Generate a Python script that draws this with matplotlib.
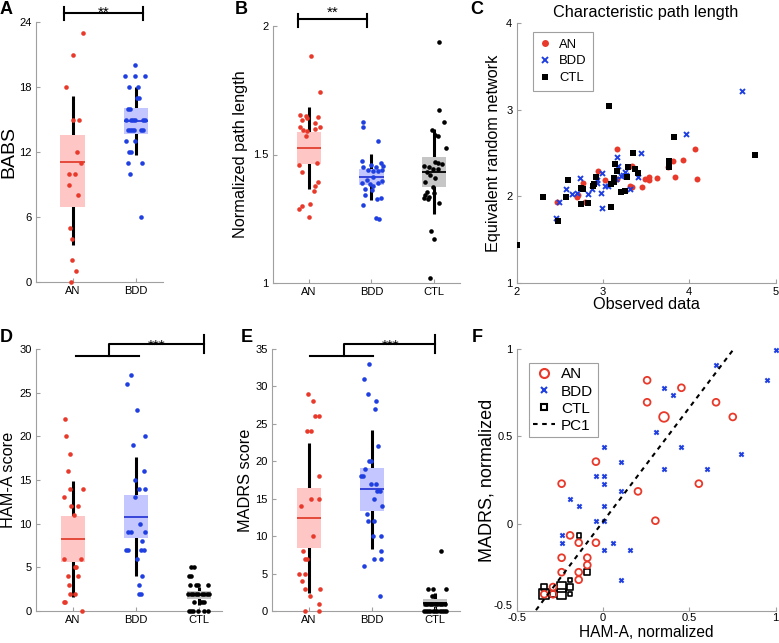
import matplotlib
matplotlib.use("Agg")
import matplotlib.pyplot as plt
from matplotlib.lines import Line2D

plt.rcParams["font.family"] = ["Liberation Sans", "DejaVu Sans"]

# ---------------- data ----------------
groups3 = ["AN", "BDD", "CTL"]

# A: BABS (jittered x, score)
babs_an_x = [1.16, 1.005, 0.90, 1.00, 1.095, 1.07, 1.13, 0.95, 1.03, 0.95, 1.085, 0.96, 0.99, 0.99, 1.05, 0.97]
babs_an_y = [23, 21, 18, 15, 15, 12, 11, 10, 10, 9, 8, 5, 4, 2, 1, 0]
babs_bdd_x = [1.98, 1.83, 1.99, 2.15, 1.89, 2.03, 2.02, 2.05, 1.88, 1.91,
              1.84, 1.93, 1.96, 1.98, 2.12, 2.15, 1.87, 1.90, 1.94, 1.97, 2.08, 2.12,
              1.85, 1.98, 1.89, 1.92, 1.87, 2.10, 1.90, 2.08]
babs_bdd_y = [20, 19, 19, 19, 18, 18, 17, 17, 16, 16,
              15, 15, 15, 15, 15, 15, 14, 14, 14, 14, 14, 14,
              13, 13, 12, 12, 11, 11, 10, 6]
# box stats: q1, median, q3, whisker low, whisker high
babs_box = {"AN": [6.9, 11.1, 13.6, 3.4, 17.2], "BDD": [13.7, 14.9, 16.1, 11.75, 18.0]}

# B: normalized path length
npl_an_x = [1.03, 1.17, 0.85, 0.95, 0.89, 0.97, 1.14, 1.09, 0.85, 0.90, 0.97, 1.10,
            1.17, 0.95, 0.84, 1.12, 0.89, 1.14, 1.10, 1.08, 1.01, 0.88, 0.83, 0.99]
npl_an_y = [1.883, 1.743, 1.655, 1.650, 1.634, 1.643, 1.646, 1.624, 1.606, 1.595, 1.593, 1.600,
            1.606, 1.572, 1.458, 1.466, 1.432, 1.394, 1.377, 1.358, 1.306, 1.301, 1.288, 1.257]
npl_bdd_x = [1.86, 1.86, 2.11, 1.85, 1.99, 2.08, 2.16, 2.19, 1.87, 1.95, 2.03, 2.10, 2.17, 1.92,
             2.03, 2.17, 1.85, 1.97, 2.10, 2.02, 1.89, 2.01, 1.89, 2.16, 2.09, 1.87, 2.08, 2.12]
npl_bdd_y = [1.626, 1.607, 1.551, 1.476, 1.458, 1.451, 1.467, 1.455, 1.451, 1.440, 1.436, 1.436,
             1.441, 1.399, 1.411, 1.398, 1.388, 1.385, 1.390, 1.377, 1.364, 1.363, 1.342, 1.331,
             1.327, 1.302, 1.254, 1.250]
npl_ctl_x = [3.08, 3.09, 3.16, 2.97, 3.02, 3.06, 3.19, 2.85, 2.92, 3.02, 3.07, 3.13, 2.89, 2.98,
             3.06, 2.94, 3.02, 2.86, 2.98, 2.89, 2.86, 2.92, 2.85, 2.90, 3.01, 3.09, 2.96, 3.01, 2.94]
npl_ctl_y = [1.939, 1.674, 1.628, 1.594, 1.576, 1.572, 1.527, 1.455, 1.453, 1.471, 1.466, 1.463,
             1.433, 1.442, 1.444, 1.420, 1.410, 1.394, 1.375, 1.355, 1.342, 1.336, 1.329, 1.326,
             1.349, 1.310, 1.202, 1.170, 1.021]
npl_box = {"AN": [1.463, 1.525, 1.588, 1.367, 1.684],
           "BDD": [1.380, 1.412, 1.444, 1.323, 1.501],
           "CTL": [1.375, 1.432, 1.489, 1.268, 1.598]}

# C: characteristic path length, observed vs random
cpl_an_x = [3.165, 2.946, 2.773, 2.707, 2.697, 2.473, 2.792, 3.023, 3.161, 3.334, 3.311, 3.334,
            3.457, 3.484, 3.534, 3.538, 3.623, 3.757, 3.807, 3.934, 3.838, 4.065, 4.096]
cpl_an_y = [2.546, 2.295, 2.150, 2.015, 1.988, 1.938, 1.930, 2.188, 2.196, 2.350, 2.119, 2.111,
            2.107, 2.203, 2.188, 2.219, 2.215, 2.334, 2.411, 2.419, 2.223, 2.550, 2.196]
cpl_bdd_x = [4.610, 3.961, 3.445, 3.161, 3.173, 2.988, 2.738, 2.934, 3.150, 3.254, 3.238, 3.215,
             3.273, 3.407, 2.927, 2.869, 2.823, 3.030, 3.057, 2.981, 2.646, 2.577, 2.704, 3.319,
             2.492, 2.996, 2.458]
cpl_bdd_y = [3.218, 2.722, 2.496, 2.450, 2.353, 2.272, 2.215, 2.188, 2.200, 2.280, 2.250, 2.231,
             2.242, 2.219, 2.150, 2.081, 2.023, 2.119, 2.119, 2.042, 2.023, 2.085, 2.035, 2.081,
             1.934, 1.861, 1.746]
cpl_ctl_x = [3.073, 3.830, 4.765, 3.349, 3.761, 3.772, 3.138, 3.292, 3.377, 3.161, 3.411, 2.923,
             3.277, 2.600, 3.130, 3.130, 3.100, 2.900, 2.888, 2.746, 2.769, 2.573, 2.304, 3.215,
             3.254, 2.742, 2.831, 3.100, 2.484, 2.01]
cpl_ctl_y = [3.042, 2.688, 2.476, 2.503, 2.411, 2.334, 2.373, 2.338, 2.319, 2.296, 2.265, 2.219,
             2.223, 2.188, 2.215, 2.165, 2.142, 2.142, 2.119, 2.092, 2.081, 1.992, 1.996, 2.053,
             2.061, 1.907, 1.919, 1.873, 1.719, 1.44]

# D: HAM-A
hama_an_x = [0.87, 0.89, 0.96, 0.92, 0.96, 1.16, 0.85, 0.97, 1.08, 1.01, 0.85,
             1.12, 1.03, 1.05, 0.92, 1.08, 0.94, 0.96, 1.03, 0.85, 0.88, 1.15]
hama_an_y = [22, 20, 18, 16, 14, 14, 13, 12, 12, 11, 6, 6, 5, 5, 4, 4, 3, 2, 2, 1, 1, 0]
hama_bdd_x = [1.92, 1.86, 2.02, 2.15, 1.96, 2.12, 1.99, 2.05, 2.15, 1.98, 2.06, 1.88,
              1.92, 2.14, 2.09, 1.84, 1.88, 2.08, 2.13, 2.01, 2.10, 2.05, 2.04, 2.08]
hama_bdd_y = [27, 26, 23, 20, 19, 16, 15, 14, 14, 13, 10, 9, 9, 9, 8, 7, 7, 7, 7, 6, 4, 3, 2, 2]
hama_ctl_x = [2.88, 2.92, 2.84, 2.88, 2.86, 2.96, 2.99, 3.14,
              2.83, 2.87, 2.91, 2.95, 2.99, 3.04, 3.08, 3.12, 3.16,
              2.92, 3.01, 3.05, 3.08, 2.84, 2.87, 2.91, 2.99, 3.08, 3.14]
hama_ctl_y = [5, 5, 4, 4, 3, 3, 3, 3, 2, 2, 2, 2, 2, 2, 2, 2, 2, 1, 1, 1, 1, 0, 0, 0, 0, 0, 0]
hama_box = {"AN": [5.57, 8.24, 10.88, 1.56, 14.85],
            "BDD": [8.36, 10.8, 13.28, 4.0, 17.6],
            "CTL": [1.34, 1.8, 2.25, 0.7, 2.8]}

# E: MADRS
madrs_an_x = [0.99, 1.06, 1.10, 1.16, 0.96, 1.03, 1.16, 1.03, 1.15, 0.87, 1.07, 0.90,
              0.94, 0.97, 0.84, 0.93, 0.88, 0.94, 1.17, 1.02, 1.15, 0.93, 1.15]
madrs_an_y = [29, 28, 26, 26, 24, 24, 18, 15, 15, 14, 10, 8, 7, 7, 5, 5, 4, 3, 3, 2, 1, 0, 0]
madrs_bdd_x = [1.96, 1.87, 1.93, 2.07, 2.05, 2.10, 1.96, 1.99, 1.89, 1.83, 1.85, 1.98, 2.06, 2.08,
               2.12, 2.04, 2.16, 1.92, 1.94, 2.04, 2.01, 2.14, 2.15, 2.03, 2.15, 1.88, 2.12]
madrs_bdd_y = [33, 31, 29, 28, 27, 22, 20, 20, 19, 18, 18, 17, 17, 16, 16, 15, 14, 13, 12, 12,
               10, 10, 8, 7, 7, 6, 2]
madrs_ctl_x = [3.10, 2.89, 2.97, 3.17, 2.95, 2.99,
               2.84, 2.88, 2.92, 2.96, 3.00, 3.04, 3.08, 3.12, 3.16,
               2.82, 2.86, 2.89, 2.93, 2.97, 3.00, 3.04, 3.08, 3.11, 3.15, 3.18]
madrs_ctl_y = [8, 3, 3, 3, 2, 2, 1, 1, 1, 1, 1, 1, 1, 1, 1, 0, 0, 0, 0, 0, 0, 0, 0, 0, 0, 0]
madrs_box = {"AN": [8.46, 12.47, 16.47, 2.36, 22.5],
             "BDD": [13.31, 16.25, 19.1, 8.24, 24.2],
             "CTL": [0.49, 1.03, 1.56, 0.2, 2.45]}

# F: normalized HAM-A vs MADRS, n = subjects on the same point
f_an_x = [0.255, 0.454, 0.255, 0.655, 0.353, 0.752, -0.042, -0.241, 0.555, 0.202, 0.303, -0.192,
          -0.142, -0.042, -0.241, -0.092, -0.092, -0.241, -0.142, -0.142, -0.291, -0.291, -0.342]
f_an_y = [0.821, 0.778, 0.695, 0.695, 0.611, 0.611, 0.355, 0.229, 0.229, 0.185, 0.017, -0.067,
          -0.109, -0.109, -0.195, -0.195, -0.237, -0.278, -0.278, -0.321, -0.363, -0.404, -0.404]
f_an_n = [1, 1, 1, 1, 2, 1, 1, 1, 1, 1, 1, 1, 1, 1, 1, 1, 1, 1, 1, 1, 1, 1, 1]
f_bdd_x = [1.0, 0.655, 0.951, 0.355, 0.405, 0.305, 0.007, 0.454, 0.8, 0.106, 0.355, 0.603, -0.042,
           0.007, 0.007, -0.192, 0.106, -0.142, 0.007, -0.042, 0.007, -0.241, -0.241, 0.057, 0.007,
           0.156, 0.106]
f_bdd_y = [0.992, 0.908, 0.822, 0.778, 0.736, 0.525, 0.441, 0.441, 0.399, 0.355, 0.313, 0.313,
           0.273, 0.273, 0.229, 0.143, 0.185, 0.101, 0.101, 0.017, 0.017, -0.067, -0.109, -0.109,
           -0.151, -0.151, -0.321]
f_ctl_x = [-0.142, -0.092, -0.192, -0.192, -0.241, -0.342, -0.192, -0.241, -0.291, -0.342]
f_ctl_y = [-0.067, -0.278, -0.321, -0.363, -0.363, -0.363, -0.404, -0.404, -0.404, -0.404]
f_ctl_n = [1, 2, 1, 2, 5, 2, 1, 5, 2, 5]
pc1_x = [-0.39, 0.75]
pc1_y = [-0.495, 0.99]

# ---------------- style ----------------
RED = "#e8392a"
BLUE = "#1f3fe0"
BOX = {"AN": "#ffc6c6", "BDD": "#c3c6ff", "CTL": "#c6c6c6"}
MED = {"AN": "#e2402f", "BDD": "#2b3bd6", "CTL": "black"}
PT = {"AN": RED, "BDD": BLUE, "CTL": "black"}
SPINE = "#a0a0a0"
W, H = 779, 643


def frame(ax):
    for s in ("top", "right"):
        ax.spines[s].set_visible(False)
    for s in ("left", "bottom"):
        ax.spines[s].set_color(SPINE)
        ax.spines[s].set_linewidth(0.8)
    ax.tick_params(direction="in", length=3, width=0.8, color=SPINE, labelsize=8, pad=3)


def box(ax, pos, stats, key):
    q1, med, q3, lo, hi = stats
    ax.vlines(pos, lo, hi, color="black", lw=2.2, zorder=1)
    ax.bar(pos, q3 - q1, bottom=q1, width=0.39, color=BOX[key], zorder=2)
    ax.hlines(med, pos - 0.195, pos + 0.195, color=MED[key], lw=1.3, zorder=3)


def dots(ax, x, y, key):
    ax.plot(x, y, "o", ms=3.3, mew=0, color=PT[key], zorder=4, clip_on=False)


def add_ax(left, top, right, bottom):
    return fig.add_axes([left / W, 1 - bottom / H, (right - left) / W, (bottom - top) / H])


def bracket2(ax, x0, x1, y, t0, t1, ty, label):
    kw = dict(color="black", lw=1.5, clip_on=False)
    ax.plot([x0, x1], [y, y], **kw)
    ax.plot([x0, x0], [t0, t1], **kw)
    ax.plot([x1, x1], [t0, t1], **kw)
    ax.text((x0 + x1) / 2, ty, label, ha="center", va="baseline", fontsize=11)


def bracket3(ax, x0, x1, xm, y_lo, x2, y_hi, t0, t1, tx, ty):
    kw = dict(color="black", lw=1.5, clip_on=False)
    ax.plot([x0, x1], [y_lo, y_lo], **kw)
    ax.plot([xm, xm, x2], [y_lo, y_hi, y_hi], **kw)
    ax.plot([x2, x2], [t0, t1], **kw)
    ax.text(tx, ty, "***", ha="center", va="baseline", fontsize=11)


fig = plt.figure(figsize=(W / 100, H / 100), dpi=100)

# A
ax = add_ax(36, 22, 163, 282)
frame(ax)
box(ax, 1, babs_box["AN"], "AN")
box(ax, 2, babs_box["BDD"], "BDD")
dots(ax, babs_an_x, babs_an_y, "AN")
dots(ax, babs_bdd_x, babs_bdd_y, "BDD")
ax.set_xlim(0.42, 2.43)
ax.set_ylim(0, 24)
ax.set_yticks([0, 6, 12, 18, 24])
ax.set_xticks([1, 2])
ax.set_xticklabels(groups3[:2])
ax.set_ylabel("BABS", fontsize=14)
ax.yaxis.set_label_coords(-0.15, 0.5)
bracket2(ax, 0.87, 2.11, 24.83, 24.2, 25.4, 24.51, "**")

# B
ax = add_ax(273, 26, 460, 283)
frame(ax)
for i, g in enumerate(groups3):
    box(ax, i + 1, npl_box[g], g)
dots(ax, npl_an_x, npl_an_y, "AN")
dots(ax, npl_bdd_x, npl_bdd_y, "BDD")
dots(ax, npl_ctl_x, npl_ctl_y, "CTL")
ax.set_xlim(0.42, 3.42)
ax.set_ylim(1, 2)
ax.set_yticks([1, 1.5, 2])
ax.set_yticklabels(["1", "1.5", "2"])
ax.set_xticks([1, 2, 3])
ax.set_xticklabels(groups3)
ax.set_ylabel("Normalized path length", fontsize=11.7)
ax.yaxis.set_label_coords(-0.134, 0.5)
bracket2(ax, 0.82, 1.93, 2.027, 1.996, 2.047, 2.037, "**")

# C
ax = add_ax(516.5, 23, 775.5, 283)
frame(ax)
ax.plot(cpl_an_x, cpl_an_y, "o", ms=4.3, mew=0, color=RED, zorder=3)
ax.plot(cpl_bdd_x, cpl_bdd_y, "x", ms=3.6, mew=1.4, color=BLUE, zorder=3)
ax.plot(cpl_ctl_x, cpl_ctl_y, "s", ms=3.8, mew=0, color="black", zorder=3)
ax.set_xlim(2, 5)
ax.set_ylim(1, 4)
ax.set_xticks([2, 3, 4, 5])
ax.set_yticks([1, 2, 3, 4])
ax.set_xlabel("Observed data", fontsize=11.7)
ax.xaxis.set_label_coords(0.5, -0.055)
ax.set_ylabel("Equivalent random network", fontsize=11.7)
ax.yaxis.set_label_coords(-0.06, 0.5)
ax.set_title("Characteristic path length", fontsize=11.7, pad=4)
handles = [Line2D([], [], ls="none", marker="o", ms=5, mew=0, color=RED),
           Line2D([], [], ls="none", marker="x", ms=4, mew=1.4, color=BLUE),
           Line2D([], [], ls="none", marker="s", ms=4.5, mew=0, color="black")]
leg = ax.legend(handles, groups3, loc="upper left", bbox_to_anchor=(0.063, 0.965),
                fontsize=9.4, fancybox=False, edgecolor="#888888", handlelength=0.8,
                handletextpad=0.7, borderpad=0.5, labelspacing=0.35, borderaxespad=0)
leg.get_frame().set_linewidth(0.8)

# D
ax = add_ax(36, 349, 222, 611)
frame(ax)
for i, g in enumerate(groups3):
    box(ax, i + 1, hama_box[g], g)
dots(ax, hama_an_x, hama_an_y, "AN")
dots(ax, hama_bdd_x, hama_bdd_y, "BDD")
dots(ax, hama_ctl_x, hama_ctl_y, "CTL")
ax.set_xlim(0.413, 3.365)
ax.set_ylim(0, 30)
ax.set_yticks(range(0, 31, 5))
ax.set_xticks([1, 2, 3])
ax.set_xticklabels(groups3)
ax.set_ylabel("HAM-A score", fontsize=11.7)
ax.yaxis.set_label_coords(-0.108, 0.5)
bracket3(ax, 1.05, 2.05, 1.57, 29.2, 3.08, 30.57, 29.54, 31.6, 2.33, 29.94)

# E
ax = add_ax(272, 349, 460, 611)
frame(ax)
for i, g in enumerate(groups3):
    box(ax, i + 1, madrs_box[g], g)
dots(ax, madrs_an_x, madrs_an_y, "AN")
dots(ax, madrs_bdd_x, madrs_bdd_y, "BDD")
dots(ax, madrs_ctl_x, madrs_ctl_y, "CTL")
ax.set_xlim(0.41, 3.40)
ax.set_ylim(0, 35)
ax.set_yticks(range(0, 36, 5))
ax.set_xticks([1, 2, 3])
ax.set_xticklabels(groups3)
ax.set_ylabel("MADRS score", fontsize=11.7)
ax.yaxis.set_label_coords(-0.101, 0.5)
bracket3(ax, 1.02, 2.02, 1.55, 34.06, 3.0, 35.67, 34.42, 36.87, 2.30, 34.93)

# F
ax = add_ax(517, 349, 775.5, 611)
frame(ax)
ax.tick_params(axis="x", pad=1.5)
ax.scatter(f_ctl_x, f_ctl_y, s=[9.6 * n for n in f_ctl_n], marker="s", facecolors="none",
           edgecolors="black", linewidths=1.2, zorder=2, clip_on=False)
ax.scatter(f_an_x, f_an_y, s=[24 * n for n in f_an_n], marker="o", facecolors="none",
           edgecolors=RED, linewidths=1.3, zorder=3, clip_on=False)
ax.scatter(f_bdd_x, f_bdd_y, s=9, marker="x", color=BLUE, linewidths=1.5, zorder=3, clip_on=False)
ax.plot(pc1_x, pc1_y, "--", color="black", lw=1.5, dashes=(2.2, 2.2), zorder=4)
ax.set_xlim(-0.5, 1)
ax.set_ylim(-0.5, 1)
ax.set_xticks([-0.5, 0, 0.5, 1])
ax.set_xticklabels(["-0.5", "0", "0.5", "1"])
ax.set_yticks([-0.5, 0, 0.5, 1])
ax.set_yticklabels(["-0.5", "0", "0.5", "1"])
# corner labels touch in the original; lift the y one just clear of the x one
ax.get_yticklabels()[0].set_verticalalignment("bottom")
ax.set_xlabel("HAM-A, normalized", fontsize=11.2)
ax.xaxis.set_label_coords(0.5, -0.054)
ax.set_ylabel("MADRS, normalized", fontsize=13)
ax.yaxis.set_label_coords(-0.085, 0.5)
handles = [Line2D([], [], ls="none", marker="o", ms=6.5, mfc="none", mew=1.5, color=RED),
           Line2D([], [], ls="none", marker="x", ms=4, mew=1.5, color=BLUE),
           Line2D([], [], ls="none", marker="s", ms=5, mfc="none", mew=1.5, color="black"),
           Line2D([], [], ls="--", lw=1.5, dashes=(2.2, 2.2), color="black")]
leg = ax.legend(handles, groups3 + ["PC1"], loc="upper left", bbox_to_anchor=(0.046, 0.947),
                fontsize=11, fancybox=False, edgecolor="#888888", handlelength=1.4,
                handletextpad=0.4, borderpad=0.3, labelspacing=0.2, borderaxespad=0)
leg.get_frame().set_linewidth(0.8)

# panel letters
for letter, (px, py) in zip("ABCDEF", [(6.5, 10), (241.5, 10), (477, 10),
                                       (6, 337), (246.5, 337), (477, 338)]):
    fig.text(px / W, 1 - py / H, letter, fontsize=13, fontweight="bold", ha="center", va="center")

fig.savefig("out.png", dpi=100)
